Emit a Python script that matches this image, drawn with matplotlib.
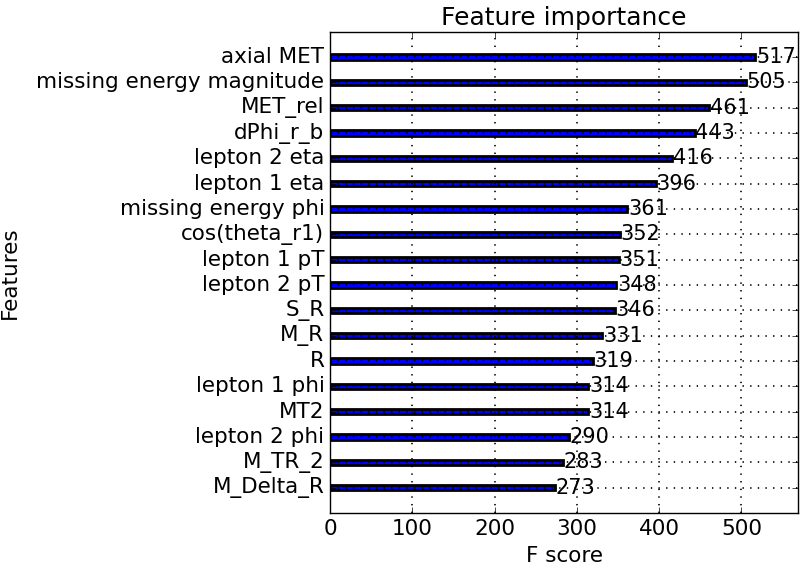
import matplotlib
matplotlib.use("Agg")
import matplotlib.pyplot as plt

features = ["M_Delta_R", "M_TR_2", "lepton 2 phi", "MT2", "lepton 1 phi", "R", "M_R",
            "S_R", "lepton 2 pT", "lepton 1 pT", "cos(theta_r1)", "missing energy phi",
            "lepton 1 eta", "lepton 2 eta", "dPhi_r_b", "MET_rel",
            "missing energy magnitude", "axial MET"]
scores = [273, 283, 290, 314, 314, 319, 331, 346, 348, 351, 352, 361, 396, 416, 443, 461, 505, 517]

plt.style.use("classic")
plt.rcParams["font.family"] = "DejaVu Sans"
plt.rcParams["font.size"] = 15.5

fig = plt.figure(figsize=(8, 5.73), dpi=100)
fig.patch.set_facecolor("white")
ax = fig.add_axes([0.4125, 0.1047, 0.585, 0.840])

ylocs = list(range(len(scores)))
ax.barh(ylocs, scores, align="center", height=0.2, color="blue", edgecolor="black", linewidth=2)
for x, y in zip(scores, ylocs):
    ax.text(x + 1, y, str(x), va="center", fontsize=15)

ax.set_yticks(ylocs)
ax.set_yticklabels(features, fontsize=15.5)
ax.tick_params(axis="x", labelsize=15.5)
ax.set_xlim(0, max(scores) * 1.1)
ax.set_ylim(-1, len(scores))
ax.grid(True, color="black", linestyle=(0, (1, 4.5)), linewidth=1.2)
ax.set_title("Feature importance", fontsize=18)
ax.set_xlabel("F score", fontsize=15.5)
ax.set_ylabel("Features", fontsize=15.5, labelpad=12)

fig.savefig("out.png", dpi=100, facecolor="white")
